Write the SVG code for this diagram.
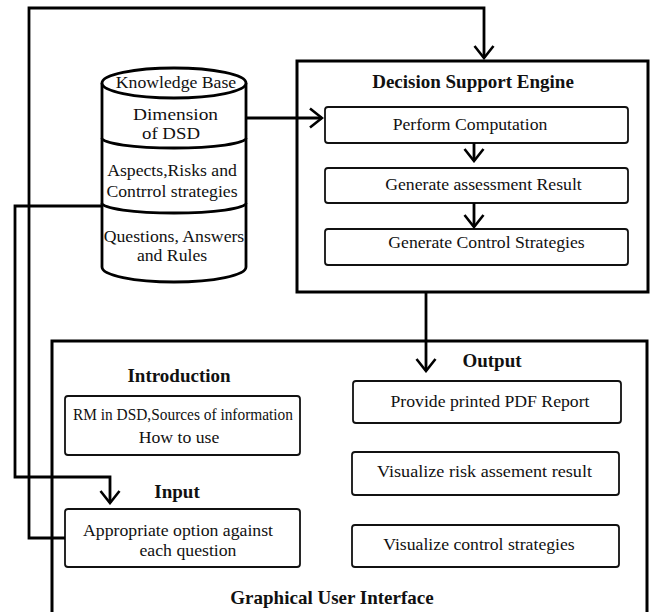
<svg xmlns="http://www.w3.org/2000/svg" width="656" height="612" viewBox="0 0 656 612">
<defs>
<marker id="chev" viewBox="-14 -11 16 22" refX="0" refY="0" markerWidth="16" markerHeight="22" markerUnits="userSpaceOnUse" orient="auto">
<polyline points="-12,-9.5 0,0 -12,9.5" fill="none" stroke="#000" stroke-width="2.6" stroke-linejoin="miter"/>
</marker>
<style>
.t{font-family:"Liberation Serif","Times New Roman",serif;font-size:17.7px;fill:#111;text-anchor:middle}
.b{font-weight:bold;font-size:19px}
.box{fill:#fff;stroke:#111;stroke-width:1.8}
.frame{fill:none;stroke:#000;stroke-width:3}
.cyl{fill:#fff;stroke:#000;stroke-width:2.8}
.wire{fill:none;stroke:#000;stroke-width:2.8}
</style>
</defs>
<rect width="656" height="612" fill="#fff"/>

<g id="gui">
<path class="frame" d="M52,616 V341 H647 V616"/>
<text class="t b" x="332" y="604" font-size="19.7">Graphical User Interface</text>
</g>

<g id="dse">
<rect class="frame" x="297" y="61" width="351" height="231"/>
<text class="t b" x="473" y="88">Decision Support Engine</text>
</g>

<g id="perform">
<rect class="box" x="325" y="107" width="303" height="36" rx="3"/>
<text class="t" x="470" y="130">Perform Computation</text>
</g>
<g id="assess">
<rect class="box" x="325" y="168" width="303" height="35" rx="3"/>
<text class="t" x="483.5" y="190">Generate assessment Result</text>
</g>
<g id="control">
<rect class="box" x="325" y="229" width="303" height="36" rx="3"/>
<text class="t" x="486.5" y="248">Generate Control Strategies</text>
</g>

<g id="kb">
<path class="cyl" d="M102,83 V267 A72,15 0 0 0 246,267 V83"/>
<ellipse class="cyl" cx="174" cy="83" rx="72" ry="15"/>
<path class="cyl" fill="none" d="M102,138 A72,10 0 0 0 246,138"/>
<path class="cyl" fill="none" d="M102,203 A72,10 0 0 0 246,203"/>
<text class="t" x="176" y="88" font-size="17.9">Knowledge Base</text>
<text class="t" x="175.5" y="120" font-size="17" textLength="85" lengthAdjust="spacingAndGlyphs">Dimension</text>
<text class="t" x="171" y="138.5" font-size="17" textLength="58" lengthAdjust="spacingAndGlyphs">of DSD</text>
<text class="t" x="172" y="176">Aspects,Risks and</text>
<text class="t" x="172" y="197">Contrrol strategies</text>
<text class="t" x="174" y="242">Questions, Answers</text>
<text class="t" x="172" y="261">and Rules</text>
</g>

<g id="intro">
<text class="t b" x="179" y="382" font-size="18">Introduction</text>
<rect class="box" x="65" y="396" width="235" height="59" rx="3"/>
<text class="t" x="183" y="420" textLength="220" lengthAdjust="spacingAndGlyphs">RM in DSD,Sources of information</text>
<text class="t" x="179" y="443">How to use</text>
</g>

<g id="input">
<text class="t b" x="177" y="498" font-size="19.5">Input</text>
<rect class="box" x="65" y="509" width="235" height="58" rx="3"/>
<text class="t" x="178" y="536" font-size="17.3" textLength="190" lengthAdjust="spacingAndGlyphs">Appropriate option against</text>
<text class="t" x="188" y="556" font-size="17.3" textLength="97" lengthAdjust="spacingAndGlyphs">each question</text>
</g>

<g id="output">
<text class="t b" x="492" y="367">Output</text>
</g>
<g id="pdf">
<rect class="box" x="353" y="381" width="268" height="42" rx="3"/>
<text class="t" x="490" y="407">Provide printed PDF Report</text>
</g>
<g id="visrisk">
<rect class="box" x="352" y="452" width="267" height="43" rx="3"/>
<text class="t" x="484.5" y="477" textLength="215" lengthAdjust="spacingAndGlyphs">Visualize risk assement  result</text>
</g>
<g id="visctrl">
<rect class="box" x="352" y="525" width="267" height="42" rx="3"/>
<text class="t" x="479" y="550">Visualize control strategies</text>
</g>

<g id="connectors">
<path class="wire" d="M65,538 H29 V8 H484 V58" marker-end="url(#chev)"/>
<path class="wire" d="M102,206 H15 V477 H110 V503" marker-end="url(#chev)"/>
<path class="wire" d="M246,118 H322" marker-end="url(#chev)"/>
<path class="wire" d="M474,143 V161" marker-end="url(#chev)"/>
<path class="wire" d="M474,203 V227" marker-end="url(#chev)"/>
<path class="wire" d="M426,292 V371" marker-end="url(#chev)"/>
</g>
</svg>
